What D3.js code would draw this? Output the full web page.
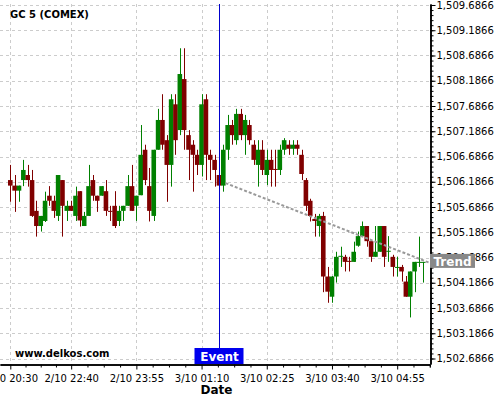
<!DOCTYPE html>
<html>
<head>
<meta charset="utf-8">
<script src="https://d3js.org/d3.v7.min.js"></script>
<style>
  body { margin: 0; background: #fff; }
  svg { display: block; font-family: "DejaVu Sans", sans-serif; }
</style>
</head>
<body>
<svg id="chart" width="500" height="400"></svg>
<script>
// 5 minute candles, GC 5 (COMEX)
const openP = [1506.22,1506.11,1506.01,1506.22,1506.32,1506.22,1505.61,1505.31,1505.41,1505.91,
  1505.81,1505.51,1506.22,1505.61,1505.71,1505.51,1506.00,1505.31,1505.51,1506.22,
  1505.91,1505.91,1506.00,1505.61,1505.71,1505.41,1505.61,1505.71,1506.10,1505.71,
  1505.92,1506.82,1506.10,1505.51,1506.82,1507.41,1507.01,1506.52,1507.72,1507.21,
  1508.22,1507.11,1506.92,1506.72,1506.52,1507.82,1506.72,1506.62,1506.32,1506.11,
  1506.82,1507.31,1507.01,1507.53,1507.11,1507.31,1506.92,1506.52,1506.82,1506.32,
  1506.62,1506.44,1506.42,1506.82,1506.92,1506.84,1506.92,1506.72,1506.22,1505.81,
  1505.45,1505.31,1505.51,1504.31,1503.91,1504.31,1504.70,1504.70,1504.62,1504.60,
  1504.92,1505.11,1505.31,1505.01,1504.70,1504.80,1505.31,1504.81,1504.70,1504.50,
  1504.50,1504.21,1503.91,1504.41,1504.60,1504.60];
const highP = [1506.52,1506.32,1506.11,1506.62,1506.52,1506.42,1505.81,1505.51,1505.99,1506.10,
  1505.91,1506.32,1506.22,1505.81,1505.81,1506.09,1506.00,1505.59,1506.52,1506.32,
  1505.91,1506.10,1506.22,1505.71,1506.00,1505.71,1505.71,1506.32,1506.52,1505.91,
  1507.31,1506.92,1506.46,1506.82,1507.63,1507.92,1507.11,1507.92,1507.92,1508.83,
  1508.83,1507.21,1507.01,1506.82,1507.92,1507.92,1506.82,1506.72,1506.42,1506.92,
  1507.51,1507.41,1507.63,1507.63,1507.51,1507.41,1507.01,1507.01,1507.01,1506.82,
  1506.82,1506.82,1506.92,1507.05,1507.01,1507.01,1507.01,1506.82,1506.26,1505.85,
  1505.55,1505.55,1505.59,1504.50,1504.32,1504.80,1504.90,1504.74,1504.70,1505.00,
  1505.20,1505.40,1505.31,1505.01,1505.31,1505.31,1505.31,1505.11,1504.74,1504.70,
  1504.54,1504.32,1504.41,1504.60,1505.10,1504.60];
const lowP = [1505.79,1505.59,1505.79,1506.10,1506.09,1505.49,1505.10,1505.20,1505.39,1505.71,
  1505.47,1505.41,1505.10,1505.41,1505.61,1505.41,1505.30,1505.31,1505.51,1505.81,
  1505.59,1505.91,1505.51,1505.41,1505.27,1505.31,1505.41,1505.71,1505.61,1505.41,
  1505.92,1506.12,1505.40,1505.41,1506.82,1506.82,1505.79,1506.09,1506.72,1507.11,
  1506.82,1506.22,1505.99,1506.32,1506.29,1506.22,1506.22,1506.09,1506.11,1505.99,
  1506.62,1506.92,1506.92,1507.01,1506.72,1506.92,1506.52,1506.09,1506.32,1506.12,
  1506.09,1506.09,1506.32,1506.72,1506.72,1506.72,1506.72,1506.22,1505.61,1505.40,
  1505.10,1505.10,1504.00,1503.79,1503.79,1504.19,1504.50,1504.41,1504.41,1504.60,
  1504.90,1505.11,1504.90,1504.60,1504.70,1504.80,1504.50,1504.60,1504.31,1504.31,
  1504.21,1503.91,1503.50,1504.00,1504.50,1504.19];
const closeP = [1506.11,1506.01,1506.11,1506.42,1506.22,1505.51,1505.31,1505.51,1505.81,1505.81,
  1505.61,1506.32,1505.71,1505.71,1505.61,1505.91,1505.42,1505.51,1506.10,1505.91,
  1505.81,1506.10,1505.61,1505.60,1505.31,1505.61,1505.71,1506.10,1505.61,1505.91,
  1506.72,1506.22,1505.61,1506.82,1507.41,1506.92,1506.52,1507.82,1507.01,1508.32,
  1507.21,1506.82,1506.72,1506.52,1507.72,1506.72,1506.62,1506.42,1506.11,1506.82,
  1507.31,1507.11,1507.53,1507.11,1507.41,1507.01,1506.62,1506.82,1506.42,1506.62,
  1506.42,1506.42,1506.82,1507.01,1506.84,1506.92,1506.84,1506.34,1505.71,1505.51,
  1505.41,1505.51,1504.31,1504.01,1504.31,1504.70,1504.72,1504.60,1504.60,1504.80,
  1505.11,1505.31,1505.01,1504.70,1504.80,1505.31,1504.70,1504.82,1504.50,1504.50,
  1504.41,1503.91,1504.41,1504.60,1504.60,1504.60];

const tickIdx = [0, 14, 29, 44, 59, 74, 89];
const tickLabels = ['2/10 20:30', '2/10 22:40', '2/10 23:55', '3/10 01:10', '3/10 02:25', '3/10 03:40', '3/10 04:55'];
const priceTicks = d3.range(15).map(k => 1502.6866 + k * 0.5);
const priceMinor = d3.range(71).map(k => 1502.6866 + k * 0.1);

const eventIdx = 48;
const trendIdx = [49.5, 96.5];
const trendPrice = [1506.16, 1504.58];

const UP = '#008000', DOWN = '#800000';

const svg = d3.select('#chart');
const W = 430, B = 364, T = 4;

const x = d3.scaleLinear().domain([-2.37, 96.55]).range([0, W]);
const y = d3.scaleLinear().domain([1502.5777, 1509.7064]).range([B, T]);

// grid
const grid = svg.append('g').attr('stroke', '#ccc').attr('stroke-dasharray', '3,3');
grid.selectAll('.gy').data(priceTicks).join('line')
  .attr('x1', 0).attr('x2', W)
  .attr('y1', d => Math.round(y(d)) + 0.5).attr('y2', d => Math.round(y(d)) + 0.5);
grid.selectAll('.gx').data(tickIdx).join('line')
  .attr('y1', T).attr('y2', B)
  .attr('x1', d => Math.round(x(d)) + 0.5).attr('x2', d => Math.round(x(d)) + 0.5);

// candles
const idx = d3.range(openP.length);
const candles = svg.append('g');
candles.selectAll('line').data(idx).join('line')
  .attr('x1', i => Math.round(x(i)) + 0.5).attr('x2', i => Math.round(x(i)) + 0.5)
  .attr('y1', i => y(highP[i])).attr('y2', i => y(lowP[i]))
  .attr('stroke', i => closeP[i] >= openP[i] ? UP : DOWN);
candles.selectAll('rect').data(idx).join('rect')
  .attr('x', i => x(i) - 2.3).attr('width', 4.6)
  .attr('y', i => y(Math.max(openP[i], closeP[i])))
  .attr('height', i => Math.max(1, Math.abs(y(openP[i]) - y(closeP[i]))))
  .attr('fill', i => closeP[i] >= openP[i] ? UP : DOWN);

// trend line
svg.append('path')
  .attr('d', d3.line()([[x(trendIdx[0]), y(trendPrice[0])], [x(trendIdx[1]), y(trendPrice[1])]]))
  .attr('stroke', '#999').attr('stroke-width', 2).attr('stroke-dasharray', '3,2').attr('fill', 'none');

// event line
const ex = Math.round(x(eventIdx)) + 0.5;
svg.append('line').attr('x1', ex).attr('x2', ex).attr('y1', T).attr('y2', B)
  .attr('stroke', '#0000cc');

// axes
const yAxis = svg.append('g').attr('transform', `translate(${W + 0.5},0)`)
  .call(d3.axisRight(y).tickValues(priceTicks).tickFormat(d3.format(',.4f')).tickSize(5).tickSizeOuter(0));
svg.append('g').attr('transform', `translate(${W + 0.5},0)`)
  .call(d3.axisRight(y).tickValues(priceMinor).tickFormat('').tickSize(3).tickSizeOuter(0));

const minorX = [];
tickIdx.forEach((t, k) => {
  const next = tickIdx[k + 1] !== undefined ? tickIdx[k + 1] : t + 15;
  for (let q = 1; q < 4; q++) minorX.push(t + (next - t) * q / 4);
});
minorX.push(96.5);
svg.append('g').attr('transform', `translate(0,${B + 0.5})`)
  .call(d3.axisBottom(x).tickValues(minorX.filter(v => x(v) <= W)).tickFormat('').tickSize(3).tickSizeOuter(0));
const xAxis = svg.append('g').attr('transform', `translate(0,${B + 0.5})`)
  .call(d3.axisBottom(x).tickValues(tickIdx).tickFormat((d, i) => tickLabels[i]).tickSize(5).tickSizeOuter(0));

svg.selectAll('.domain').attr('stroke', '#000').attr('stroke-width', 1.5);
svg.selectAll('.tick text').attr('font-family', '"DejaVu Sans", sans-serif').attr('font-size', 10).attr('fill', '#000');
xAxis.selectAll('.tick text').attr('dy', '0.9em');
yAxis.selectAll('.tick text').attr('x', 6);

// labels
svg.append('text').attr('x', 10).attr('y', 18).attr('font-weight', 'bold').attr('font-size', 10).text('GC 5 (COMEX)');
svg.append('text').attr('x', 15).attr('y', 357).attr('font-weight', 'bold').attr('font-size', 10).text('www.delkos.com');
svg.append('text').attr('x', 216.5).attr('y', 394).attr('text-anchor', 'middle')
  .attr('font-weight', 'bold').attr('font-size', 12).text('Date');

// event tag
svg.append('rect').attr('x', ex - 25).attr('y', B - 16).attr('width', 49).attr('height', 16).attr('fill', '#0000ee');
svg.append('text').attr('x', ex).attr('y', B - 3.5).attr('text-anchor', 'middle')
  .attr('fill', '#fff').attr('font-weight', 'bold').attr('font-size', 12).text('Event');

// trend tag
const ty = y(trendPrice[1]);
svg.append('rect').attr('x', W).attr('y', ty - 9).attr('width', 45).attr('height', 14).attr('fill', '#888');
svg.append('text').attr('x', W + 22.5).attr('y', ty + 3).attr('text-anchor', 'middle')
  .attr('fill', '#fff').attr('font-weight', 'bold').attr('font-size', 12).text('Trend');
</script>
</body>
</html>
